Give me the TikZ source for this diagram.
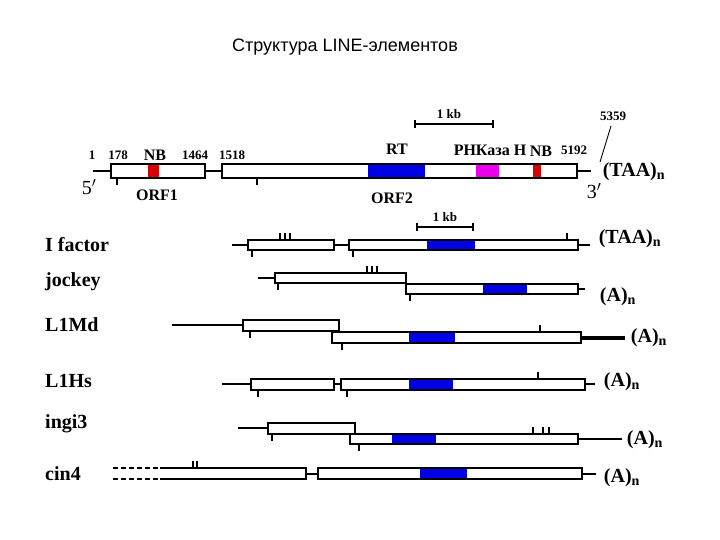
\documentclass[tikz,border=0pt]{standalone}
\usepackage{fontspec}
\setmainfont{Liberation Serif}
\newfontfamily\titlefont{Liberation Sans}
\definecolor{mag}{RGB}{235,0,235}
\begin{document}
\begin{tikzpicture}[x=1pt,y=-1pt,
  orf/.style={draw=black,line width=2.6pt,fill=white},
  ln/.style={line width=2.6pt},
  tk/.style={line width=2pt},
  blu/.style={fill=blue!90!black},
  lbl/.style={font=\bfseries\fontsize{20}{20}\selectfont,anchor=west,inner sep=0},
  tail/.style={font=\bfseries\fontsize{20}{20}\selectfont,inner sep=0},
  num/.style={font=\bfseries\fontsize{13}{13}\selectfont,inner sep=0},
  mid/.style={font=\bfseries\fontsize{16}{16}\selectfont,inner sep=0}]
\useasboundingbox (0,0) rectangle (720,540);
\node[font=\titlefont\fontsize{18}{18}\selectfont] (title) at (345,47) {Структура LINE-элементов};
% main element
\draw[ln] (93,171) -- (111,171) (205,171) -- (222,171) (577,171) -- (591,171);
\draw[orf] (111,164) rectangle (205,178);
\fill[red!85!black] (148,165) rectangle (159,177);
\draw[line width=2.6pt] (111,164) rectangle (205,178);
\draw[orf] (222,164) rectangle (577,178);
\fill[blu] (368,165) rectangle (425,177);
\fill[mag] (476,165) rectangle (499,177);
\fill[red!85!black] (533,165) rectangle (541,177);
\draw[line width=2.6pt] (222,164) rectangle (577,178);
\draw[tk] (117,178) -- (117,185) (257,178) -- (257,185);
\draw[line width=1.8pt] (415,124) -- (493,124) (415,120) -- (415,128) (493,120) -- (493,128);
\node[num] (kb1) at (449,114) {1 kb};
\node[num] (n1) at (92,155) {1};
\node[num] (n178) at (118,155) {178};
\node[mid] (nb1) at (155,155) {NB};
\node[num] (n1464) at (195,155) {1464};
\node[num] (n1518) at (232,155) {1518};
\node[mid] (rt) at (397,149) {RT};
\node[mid] (rnk) at (490,150) {РНКаза Н};
\node[mid] (nb2) at (541,151) {NB};
\node[num] (n5192) at (574,150) {5192};
\node[num] (n5359) at (613,116) {5359};
\draw[line width=0.9pt] (600,162) -- (611,126);
\node[font=\fontsize{20}{20}\selectfont,inner sep=0] (p5) at (89,187) {5$'$};
\node[font=\fontsize{20}{20}\selectfont,inner sep=0] (p3) at (594,191) {3$'$};
\node[mid] (orf1) at (157,195) {ORF1};
\node[mid] (orf2) at (392,198) {ORF2};
\node[tail] (t0) at (634,172) {(TAA)$_{\mathbf n}$};
% scale bar 2
\draw[line width=1.8pt] (417,227) -- (473,227) (417,223) -- (417,231) (473,223) -- (473,231);
\node[num] (kb2) at (445,217) {1 kb};
% I factor
\node[lbl] (l1) at (45,245) {I factor};
\draw[ln] (232,245) -- (248,245) (334,245) -- (349,245) (578,245) -- (590,245);
\draw[orf] (248,240) rectangle (334,250);
\draw[orf] (349,240) rectangle (578,250);
\fill[blu] (427,241) rectangle (475,249);
\draw[tk] (252,250) -- (252,257) (353,250) -- (353,257) (567,240) -- (567,233)
  (280,240) -- (280,233) (285,240) -- (285,233) (290,240) -- (290,233);
\node[tail] (t1) at (630,239) {(TAA)$_{\mathbf n}$};
% jockey
\node[lbl] (l2) at (45,282) {jockey};
\draw[ln] (258,278) -- (275,278) (578,289) -- (585,289);
\draw[orf] (275,273) rectangle (406,283);
\draw[orf] (406,284) rectangle (578,294);
\fill[blu] (483,285) rectangle (527,293);
\draw[tk] (278,283) -- (278,290) (410,294) -- (410,301)
  (367,273) -- (367,266) (372,273) -- (372,266) (377,273) -- (377,266);
\node[tail] (t2) at (618,297) {(A)$_{\mathbf n}$};
% L1Md
\node[lbl] (l3) at (45,325) {L1Md};
\draw[ln] (172,325) -- (243,325);
\draw[line width=3.2pt] (581,338) -- (625,338);
\draw[orf] (243,320) rectangle (339,331);
\draw[orf] (332,332) rectangle (581,343);
\fill[blu] (409,333) rectangle (455,342);
\draw[tk] (250,331) -- (250,338) (342,343) -- (342,350) (540,332) -- (540,325);
\node[tail] (t3) at (649,338) {(A)$_{\mathbf n}$};
% L1Hs
\node[lbl] (l4) at (45,381) {L1Hs};
\draw[ln] (222,384) -- (251,384) (585,384) -- (595,384) (334,384) -- (341,384);
\draw[orf] (251,379) rectangle (334,390);
\draw[orf] (341,379) rectangle (585,390);
\fill[blu] (409,380) rectangle (453,389);
\draw[tk] (258,390) -- (258,397) (347,390) -- (347,397) (538,379) -- (538,372);
\node[tail] (t4) at (622,382) {(A)$_{\mathbf n}$};
% ingi3
\node[lbl] (l5) at (45,424) {ingi3};
\draw[ln] (238,428) -- (268,428) (578,439) -- (622,439);
\draw[orf] (268,423) rectangle (355,434);
\draw[orf] (350,434) rectangle (578,444);
\fill[blu] (392,435) rectangle (436,443);
\draw[tk] (272,434) -- (272,441) (359,444) -- (359,451)
  (533,434) -- (533,427) (543,434) -- (543,427) (549,434) -- (549,427);
\node[tail] (t5) at (645,440) {(A)$_{\mathbf n}$};
% cin4
\node[lbl] (l6) at (45,474) {cin4};
\draw[ln,dash pattern=on 5pt off 3pt] (113,468) -- (160,468) (113,479) -- (160,479);
\draw[ln] (160,468) -- (306,468) -- (306,479) -- (160,479);
\draw[ln] (306,474) -- (318,474) (582,474) -- (596,474);
\draw[orf] (318,468) rectangle (582,479);
\fill[blu] (420,469) rectangle (467,478);
\draw[tk] (193,468) -- (193,461) (197,468) -- (197,461);
\node[tail] (t6) at (622,478) {(A)$_{\mathbf n}$};
\end{tikzpicture}
\end{document}
